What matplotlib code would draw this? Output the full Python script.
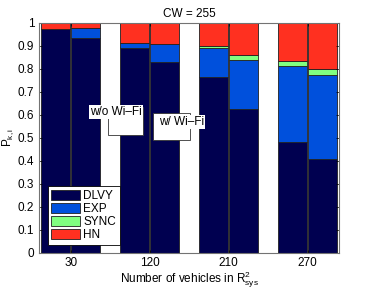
import matplotlib.pyplot as plt
import matplotlib.patches as mpatches
import numpy as np

plt.rcParams['font.family'] = ['Liberation Sans', 'DejaVu Sans']
plt.rcParams['mathtext.fontset'] = 'custom'
plt.rcParams['mathtext.rm'] = 'Liberation Sans'
plt.rcParams['mathtext.it'] = 'Liberation Sans'

groups = ['30', '120', '210', '270']
# each group has two bars: w/o Wi-Fi, w/ Wi-Fi
dlvy_a = [0.975, 0.890, 0.767, 0.484]
exp_a = [0.000, 0.024, 0.123, 0.330]
sync_a = [0.000, 0.000, 0.010, 0.022]
hn_a = [0.025, 0.086, 0.100, 0.164]

dlvy_b = [0.936, 0.832, 0.626, 0.410]
exp_b = [0.041, 0.075, 0.213, 0.364]
sync_b = [0.000, 0.000, 0.022, 0.026]
hn_b = [0.023, 0.093, 0.139, 0.200]

names = ['DLVY', 'EXP', 'SYNC', 'HN']
colors = ['#000050', '#0050DC', '#80FF80', '#FF3020']
fs = 8.5

fig = plt.figure(figsize=(3.65, 2.91), dpi=100)
ax = fig.add_axes([0.107, 0.1306, 0.822, 0.7904])

x = np.arange(1, len(groups) + 1)
off = 0.19
w = 0.375

for xs, series in [(x - off, [dlvy_a, exp_a, sync_a, hn_a]),
                   (x + off, [dlvy_b, exp_b, sync_b, hn_b])]:
    bottom = np.zeros(len(groups))
    for i, vals in enumerate(series):
        vals = np.array(vals)
        ax.bar(xs, vals, w, bottom=bottom, color=colors[i],
               edgecolor='#202020', linewidth=0.6,
               label=names[i] if xs[0] < 1 else None)
        bottom += vals

ax.set_xlim(0.6, 4.4)
ax.set_ylim(0, 1)
ax.set_xticks(x)
ax.set_xticklabels(groups)
ax.set_yticks(np.arange(0, 1.01, 0.1))
ax.set_yticklabels(['0', '0.1', '0.2', '0.3', '0.4', '0.5', '0.6', '0.7', '0.8', '0.9', '1'])
ax.tick_params(direction='in', labelsize=fs, length=2.5, top=True, right=True, width=0.5)
ax.tick_params(axis='x', pad=3)
for s in ax.spines.values():
    s.set_color('0.45')
    s.set_linewidth(0.8)

ax.set_title('CW = 255', fontsize=fs, pad=4)
ax.set_xlabel(r'Number of vehicles in R$^{2}_{\mathrm{sys}}$', fontsize=fs, labelpad=0.5)
ax.set_ylabel(r'P$_{\mathrm{k,i}}$', fontsize=fs, labelpad=1)

# annotation boxes
ax.add_patch(mpatches.Rectangle((1.474, 0.513), 0.443, 0.122, facecolor='white',
                                edgecolor='0.2', linewidth=0.6, zorder=5))
ax.text(1.246, 0.613, 'w/o Wi\u2013Fi', fontsize=fs, va='center', ha='left', zorder=6,
        bbox=dict(facecolor='white', edgecolor='none', pad=0.5))
ax.add_patch(mpatches.Rectangle((2.044, 0.491), 0.469, 0.118, facecolor='white',
                                edgecolor='0.2', linewidth=0.6, zorder=5))
ax.text(2.12, 0.570, 'w/ Wi\u2013Fi', fontsize=fs, va='center', ha='left', zorder=6,
        bbox=dict(facecolor='white', edgecolor='none', pad=0.5))

leg = ax.legend(loc='lower left', fontsize=fs, fancybox=False, framealpha=1,
                edgecolor='black', handlelength=2.4, handleheight=0.9,
                borderpad=0.3, labelspacing=0.1, handletextpad=0.3,
                bbox_to_anchor=(0.01, 0.01))
leg.get_frame().set_linewidth(0.6)

fig.savefig('out.png', dpi=100)
